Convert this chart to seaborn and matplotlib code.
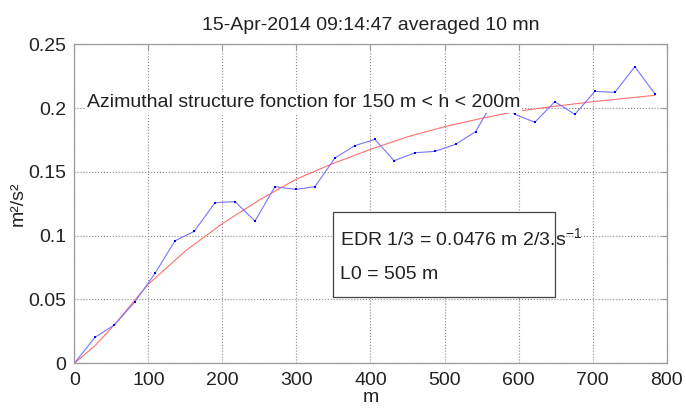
import numpy as np
import pandas as pd
import matplotlib
matplotlib.use('Agg')
import matplotlib.pyplot as plt
from matplotlib.patches import Rectangle
import seaborn as sns

dist_m = [0, 28, 54, 82, 109, 136, 162, 190, 217, 244, 271, 299, 325, 352, 379, 406,
          432, 460, 487, 515, 542, 568, 595, 622, 649, 676, 703, 730, 757, 784]
sf_val = [0, 0.0204, 0.030, 0.0483, 0.0705, 0.096, 0.1034, 0.1259, 0.1267, 0.1115,
          0.1384, 0.1363, 0.1384, 0.1609, 0.1706, 0.1755, 0.1588, 0.165, 0.1661, 0.1716,
          0.1815, 0.2077, 0.1951, 0.1889, 0.205, 0.1951, 0.2131, 0.2123, 0.2324, 0.2113]

# fitted curve (red), read at a few places
fit_m = [0, 28, 54, 81, 100, 150, 200, 250, 300, 350, 400, 450, 500, 550, 600, 650, 700, 750, 784]
fit_val = [0, 0.0138, 0.030, 0.049, 0.062, 0.088, 0.1095, 0.128, 0.1444, 0.1567, 0.1677,
           0.1775, 0.1854, 0.1920, 0.1977, 0.2015, 0.205, 0.2080, 0.210]

title = '15-Apr-2014 09:14:47 averaged 10 mn'
note = 'Azimuthal structure fonction for 150 m < h < 200m'
edr_txt = 'EDR 1/3 = 0.0476 m 2/3.s$^{-1}$'
l0_txt = 'L0 = 505 m'

sns.set_style('white')
plt.rcParams['font.family'] = ['Liberation Sans', 'DejaVu Sans']
plt.rcParams['mathtext.fontset'] = 'custom'
plt.rcParams['mathtext.rm'] = 'Liberation Sans'
plt.rcParams['mathtext.it'] = 'Liberation Sans:italic'

meas = pd.DataFrame({'m': dist_m, 'sf': sf_val})
fit = pd.DataFrame({'m': fit_m, 'sf': fit_val})

fs = 14

fig = plt.figure(figsize=(6.86, 4.12), dpi=100)
ax = fig.add_axes([0.1083, 0.1182, 0.8635, 0.7743])

sns.lineplot(data=fit, x='m', y='sf', color='#ff7070', lw=0.8, ax=ax)
sns.lineplot(data=meas, x='m', y='sf', color='#7575ff', lw=0.8, ax=ax,
             marker='s', markersize=2.0, markerfacecolor='#0000ee', markeredgewidth=0)

ax.set_xlim(0, 800)
ax.set_ylim(0, 0.25)
ax.set_xticks(range(0, 801, 100))
ax.set_yticks([0, 0.05, 0.1, 0.15, 0.2, 0.25])
ax.set_yticklabels(['0', '0.05', '0.1', '0.15', '0.2', '0.25'])
ax.grid(True, ls=':', color='#8a8a8a', lw=0.8)
for s in ax.spines.values():
    s.set_color('#9a9a9a')
    s.set_linewidth(0.9)
ax.tick_params(direction='in', length=4, color='#9a9a9a', labelsize=fs,
               labelcolor='#222222', pad=6, top=True, right=True)

ax.set_xlabel('m', fontsize=fs, color='#222222', labelpad=0)
ax.set_ylabel('m²/s²', fontsize=fs, color='#222222', labelpad=1)
ax.set_title(title, fontsize=fs, color='#222222', pad=10)

ax.text(17, 0.2045, note, fontsize=fs, color='#222222', va='center', ha='left', zorder=5,
        bbox=dict(facecolor='white', edgecolor='none', pad=1.5))

ax.add_patch(Rectangle((0.4365, 0.2075), 0.3743, 0.2665, transform=ax.transAxes,
                       facecolor='white', edgecolor='#444444', lw=0.9, zorder=5))
ax.text(0.449, 0.3935, edr_txt, transform=ax.transAxes, fontsize=fs, color='#222222',
        va='center', ha='left', zorder=6)
ax.text(0.449, 0.2775, l0_txt, transform=ax.transAxes, fontsize=fs, color='#222222',
        va='center', ha='left', zorder=6)

fig.savefig('out.png', dpi=100)
